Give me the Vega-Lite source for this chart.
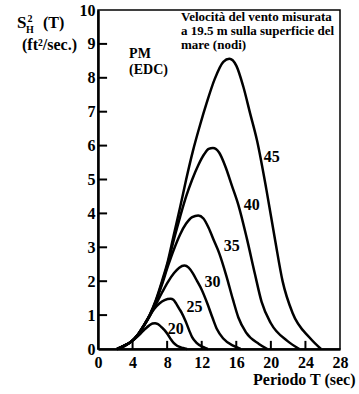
{
  "$schema": "https://vega.github.io/schema/vega-lite/v6.json",
  "width": 242,
  "height": 339,
  "autosize": {"type": "none"},
  "padding": {"left": 98, "top": 10, "right": 19, "bottom": 45},
  "background": "white",
  "config": {
    "view": {"stroke": "black", "strokeWidth": 1.5},
    "font": "Liberation Serif",
    "axis": {
      "grid": false,
      "domainColor": "black",
      "domainWidth": 2.5,
      "ticks": false,
      "labelColor": "black",
      "labelFont": "Liberation Serif",
      "labelFontSize": 16,
      "labelFontWeight": "bold",
      "labelOverlap": false,
      "titleColor": "black",
      "titleFont": "Liberation Serif"
    }
  },
  "datasets": {
    "curves": [
      {"speed": "20", "T": 2.2, "S": 0}, {"speed": "20", "T": 2.9, "S": 0.06}, {"speed": "20", "T": 3.6, "S": 0.17}, {"speed": "20", "T": 4.3, "S": 0.31}, {"speed": "20", "T": 4.9, "S": 0.45}, {"speed": "20", "T": 5.4, "S": 0.58}, {"speed": "20", "T": 5.9, "S": 0.69}, {"speed": "20", "T": 6.3, "S": 0.75}, {"speed": "20", "T": 6.6, "S": 0.76}, {"speed": "20", "T": 6.88, "S": 0.74}, {"speed": "20", "T": 7.16, "S": 0.69}, {"speed": "20", "T": 7.44, "S": 0.62}, {"speed": "20", "T": 7.72, "S": 0.55}, {"speed": "20", "T": 8.1, "S": 0.42}, {"speed": "20", "T": 8.45, "S": 0.28}, {"speed": "20", "T": 8.75, "S": 0.18}, {"speed": "20", "T": 9.15, "S": 0.095}, {"speed": "20", "T": 9.84, "S": 0.03}, {"speed": "20", "T": 10.3, "S": 0},
      {"speed": "25", "T": 2.2, "S": 0}, {"speed": "25", "T": 3.0, "S": 0.09}, {"speed": "25", "T": 3.8, "S": 0.21}, {"speed": "25", "T": 4.6, "S": 0.41}, {"speed": "25", "T": 5.3, "S": 0.68}, {"speed": "25", "T": 5.9, "S": 0.95}, {"speed": "25", "T": 6.5, "S": 1.18}, {"speed": "25", "T": 7.1, "S": 1.34}, {"speed": "25", "T": 7.7, "S": 1.44}, {"speed": "25", "T": 8.4, "S": 1.48}, {"speed": "25", "T": 8.72, "S": 1.45}, {"speed": "25", "T": 9.05, "S": 1.34}, {"speed": "25", "T": 9.37, "S": 1.2}, {"speed": "25", "T": 9.7, "S": 1.06}, {"speed": "25", "T": 10.15, "S": 0.81}, {"speed": "25", "T": 10.55, "S": 0.55}, {"speed": "25", "T": 10.89, "S": 0.35}, {"speed": "25", "T": 11.37, "S": 0.19}, {"speed": "25", "T": 12.17, "S": 0.06}, {"speed": "25", "T": 12.7, "S": 0},
      {"speed": "30", "T": 2.2, "S": 0}, {"speed": "30", "T": 3.0, "S": 0.09}, {"speed": "30", "T": 3.8, "S": 0.21}, {"speed": "30", "T": 4.6, "S": 0.41}, {"speed": "30", "T": 5.3, "S": 0.68}, {"speed": "30", "T": 6.0, "S": 0.98}, {"speed": "30", "T": 6.7, "S": 1.32}, {"speed": "30", "T": 7.4, "S": 1.66}, {"speed": "30", "T": 8.1, "S": 1.98}, {"speed": "30", "T": 8.8, "S": 2.24}, {"speed": "30", "T": 9.4, "S": 2.4}, {"speed": "30", "T": 10.0, "S": 2.46}, {"speed": "30", "T": 10.49, "S": 2.4}, {"speed": "30", "T": 10.98, "S": 2.23}, {"speed": "30", "T": 11.47, "S": 2.0}, {"speed": "30", "T": 11.96, "S": 1.77}, {"speed": "30", "T": 12.64, "S": 1.35}, {"speed": "30", "T": 13.25, "S": 0.92}, {"speed": "30", "T": 13.77, "S": 0.58}, {"speed": "30", "T": 14.49, "S": 0.31}, {"speed": "30", "T": 15.7, "S": 0.09}, {"speed": "30", "T": 16.5, "S": 0},
      {"speed": "35", "T": 2.2, "S": 0}, {"speed": "35", "T": 3.0, "S": 0.09}, {"speed": "35", "T": 3.8, "S": 0.21}, {"speed": "35", "T": 4.6, "S": 0.42}, {"speed": "35", "T": 5.3, "S": 0.69}, {"speed": "35", "T": 6.0, "S": 1.0}, {"speed": "35", "T": 6.7, "S": 1.4}, {"speed": "35", "T": 7.4, "S": 1.9}, {"speed": "35", "T": 8.1, "S": 2.45}, {"speed": "35", "T": 8.8, "S": 2.95}, {"speed": "35", "T": 9.5, "S": 3.38}, {"speed": "35", "T": 10.2, "S": 3.7}, {"speed": "35", "T": 10.9, "S": 3.89}, {"speed": "35", "T": 11.6, "S": 3.94}, {"speed": "35", "T": 12.2, "S": 3.85}, {"speed": "35", "T": 12.81, "S": 3.57}, {"speed": "35", "T": 13.41, "S": 3.2}, {"speed": "35", "T": 14.02, "S": 2.83}, {"speed": "35", "T": 14.85, "S": 2.16}, {"speed": "35", "T": 15.6, "S": 1.47}, {"speed": "35", "T": 16.24, "S": 0.93}, {"speed": "35", "T": 17.12, "S": 0.49}, {"speed": "35", "T": 18.62, "S": 0.15}, {"speed": "35", "T": 19.6, "S": 0},
      {"speed": "40", "T": 2.25, "S": 0}, {"speed": "40", "T": 3.0, "S": 0.09}, {"speed": "40", "T": 3.8, "S": 0.21}, {"speed": "40", "T": 4.6, "S": 0.42}, {"speed": "40", "T": 5.3, "S": 0.69}, {"speed": "40", "T": 6.0, "S": 1.0}, {"speed": "40", "T": 6.7, "S": 1.42}, {"speed": "40", "T": 7.4, "S": 1.95}, {"speed": "40", "T": 8.1, "S": 2.55}, {"speed": "40", "T": 8.8, "S": 3.25}, {"speed": "40", "T": 9.5, "S": 3.9}, {"speed": "40", "T": 10.2, "S": 4.5}, {"speed": "40", "T": 10.9, "S": 5.0}, {"speed": "40", "T": 11.6, "S": 5.42}, {"speed": "40", "T": 12.3, "S": 5.75}, {"speed": "40", "T": 12.8, "S": 5.9}, {"speed": "40", "T": 13.3, "S": 5.93}, {"speed": "40", "T": 14.03, "S": 5.79}, {"speed": "40", "T": 14.76, "S": 5.37}, {"speed": "40", "T": 15.49, "S": 4.82}, {"speed": "40", "T": 16.23, "S": 4.26}, {"speed": "40", "T": 17.24, "S": 3.24}, {"speed": "40", "T": 18.15, "S": 2.22}, {"speed": "40", "T": 18.93, "S": 1.39}, {"speed": "40", "T": 20.0, "S": 0.76}, {"speed": "40", "T": 21.9, "S": 0.24}, {"speed": "40", "T": 23.3, "S": 0},
      {"speed": "45", "T": 2.3, "S": 0}, {"speed": "45", "T": 3.0, "S": 0.1}, {"speed": "45", "T": 3.8, "S": 0.21}, {"speed": "45", "T": 4.6, "S": 0.42}, {"speed": "45", "T": 5.3, "S": 0.7}, {"speed": "45", "T": 6.0, "S": 1.02}, {"speed": "45", "T": 6.7, "S": 1.45}, {"speed": "45", "T": 7.4, "S": 2.0}, {"speed": "45", "T": 8.1, "S": 2.61}, {"speed": "45", "T": 8.8, "S": 3.4}, {"speed": "45", "T": 9.5, "S": 4.18}, {"speed": "45", "T": 10.2, "S": 5.0}, {"speed": "45", "T": 11.0, "S": 5.86}, {"speed": "45", "T": 11.8, "S": 6.6}, {"speed": "45", "T": 12.6, "S": 7.28}, {"speed": "45", "T": 13.5, "S": 7.96}, {"speed": "45", "T": 14.5, "S": 8.47}, {"speed": "45", "T": 15.2, "S": 8.56}, {"speed": "45", "T": 16.0, "S": 8.36}, {"speed": "45", "T": 16.8, "S": 7.75}, {"speed": "45", "T": 17.6, "S": 6.95}, {"speed": "45", "T": 18.4, "S": 6.15}, {"speed": "45", "T": 19.5, "S": 4.68}, {"speed": "45", "T": 20.5, "S": 3.2}, {"speed": "45", "T": 21.35, "S": 2.01}, {"speed": "45", "T": 22.5, "S": 1.07}, {"speed": "45", "T": 24.5, "S": 0.33}, {"speed": "45", "T": 25.8, "S": 0}
    ],
    "labels": [
      {"speed": "20", "T": 9.0, "S": 0.6},
      {"speed": "25", "T": 11.17, "S": 1.23},
      {"speed": "30", "T": 13.25, "S": 1.97},
      {"speed": "35", "T": 15.47, "S": 3.03},
      {"speed": "40", "T": 17.78, "S": 4.26},
      {"speed": "45", "T": 20.1, "S": 5.66}
    ],
    "xticks": [
      {"T": 4, "S": 0, "S2": 0.24}, {"T": 8, "S": 0, "S2": 0.24}, {"T": 12, "S": 0, "S2": 0.24}, {"T": 16, "S": 0, "S2": 0.24}, {"T": 20, "S": 0, "S2": 0.24}, {"T": 24, "S": 0, "S2": 0.24}
    ],
    "yticks": [
      {"T": 0, "T2": 1.05, "S": 1}, {"T": 0, "T2": 1.05, "S": 2}, {"T": 0, "T2": 1.05, "S": 3}, {"T": 0, "T2": 1.05, "S": 4}, {"T": 0, "T2": 1.05, "S": 5}, {"T": 0, "T2": 1.05, "S": 6}, {"T": 0, "T2": 1.05, "S": 7}, {"T": 0, "T2": 1.05, "S": 8}, {"T": 0, "T2": 1.05, "S": 9}
    ]
  },
  "encoding": {
    "x": {
      "field": "T", "type": "quantitative",
      "scale": {"domain": [0, 28], "nice": false, "zero": false},
      "axis": {
        "values": [0, 4, 8, 12, 16, 20, 24, 28],
        "labelOverlap": false,
        "labelPadding": 5,
        "labelFlush": false,
        "title": "Periodo T (sec)",
        "titleFontSize": 16,
        "titleFontWeight": "bold",
        "titleAlign": "right",
        "titleAnchor": "end",
        "titleBaseline": "alphabetic",
        "titleX": 257,
        "titleY": 35
      }
    },
    "y": {
      "field": "S", "type": "quantitative",
      "scale": {"domain": [0, 10], "nice": false},
      "axis": {
        "values": [0, 1, 2, 3, 4, 5, 6, 7, 8, 9, 10],
        "labelOverlap": false,
        "labelPadding": 3,
        "title": null
      }
    }
  },
  "layer": [
    {
      "data": {"name": "xticks"},
      "mark": {"type": "rule", "color": "black", "strokeWidth": 2},
      "encoding": {"y2": {"field": "S2"}}
    },
    {
      "data": {"name": "yticks"},
      "mark": {"type": "rule", "color": "black", "strokeWidth": 2},
      "encoding": {"x2": {"field": "T2"}}
    },
    {
      "data": {"name": "curves"},
      "mark": {"type": "line", "interpolate": "monotone", "color": "black", "strokeWidth": 2.5, "clip": false},
      "encoding": {"detail": {"field": "speed"}}
    },
    {
      "data": {"name": "labels"},
      "mark": {"type": "text", "font": "Liberation Serif", "fontSize": 16, "fontWeight": "bold", "color": "black", "align": "center", "baseline": "middle"},
      "encoding": {"text": {"field": "speed"}}
    },
    {
      "data": {"values": [{"T": 3.6, "S": 8.92}]},
      "mark": {"type": "text", "text": ["PM", "(EDC)"], "font": "Liberation Serif", "fontSize": 14, "fontWeight": "bold", "lineHeight": 16, "color": "black", "align": "left", "baseline": "top"}
    },
    {
      "data": {"values": [{"T": 9.6, "S": 9.98}]},
      "mark": {"type": "text", "text": ["Velocità del vento misurata", "a 19.5 m sulla superficie del", "mare (nodi)"], "font": "Liberation Serif", "fontSize": 13, "fontWeight": "bold", "lineHeight": 14, "color": "black", "align": "left", "baseline": "top"}
    },
    {
      "data": {"values": [{"T": -9.37, "S": 9.48}]},
      "mark": {"type": "text", "text": "S", "font": "Liberation Serif", "fontSize": 17, "fontWeight": "bold", "color": "black", "align": "left", "baseline": "alphabetic"}
    },
    {
      "data": {"values": [{"T": -8.33, "S": 9.32}]},
      "mark": {"type": "text", "text": "H", "font": "Liberation Serif", "fontSize": 10, "fontWeight": "bold", "color": "black", "align": "left", "baseline": "alphabetic"}
    },
    {
      "data": {"values": [{"T": -8.16, "S": 9.66}]},
      "mark": {"type": "text", "text": "2", "font": "Liberation Serif", "fontSize": 10, "fontWeight": "bold", "color": "black", "align": "left", "baseline": "alphabetic"}
    },
    {
      "data": {"values": [{"T": -6.36, "S": 9.48}]},
      "mark": {"type": "text", "text": "(T)", "font": "Liberation Serif", "fontSize": 16, "fontWeight": "bold", "color": "black", "align": "left", "baseline": "alphabetic"}
    },
    {
      "data": {"values": [{"T": -8.79, "S": 8.81}]},
      "mark": {"type": "text", "text": "(ft²/sec.)", "font": "Liberation Serif", "fontSize": 16, "fontWeight": "bold", "color": "black", "align": "left", "baseline": "alphabetic"}
    }
  ]
}
